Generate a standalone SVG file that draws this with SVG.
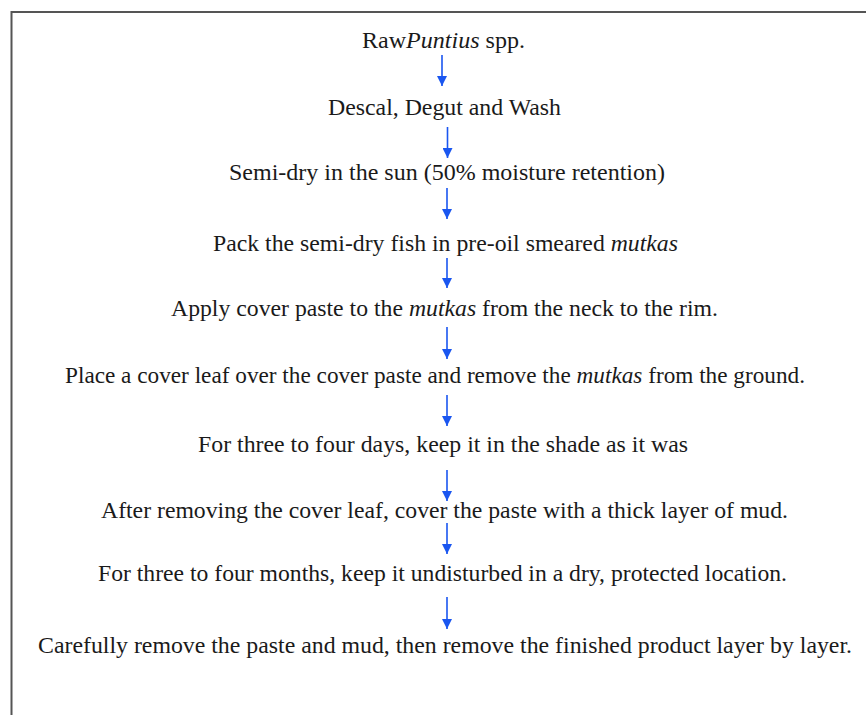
<svg xmlns="http://www.w3.org/2000/svg" width="866" height="715" viewBox="0 0 866 715">
<defs>
<style>
.t{font-family:"Liberation Serif","Times New Roman",serif;font-size:23.6px;fill:#1a1a1a;text-anchor:middle}
.i{font-style:italic}
.c{stroke:#1a56f0;stroke-width:1.6;fill:none}
</style>
<marker id="ah" viewBox="0 0 10 10" refX="10" refY="5" markerWidth="11" markerHeight="10" markerUnits="userSpaceOnUse" orient="auto">
<path d="M0,0 L10,5 L0,10 Z" fill="#1a56f0"/>
</marker>
</defs>
<rect x="0" y="0" width="866" height="715" fill="#fff"/>
<path d="M11.5,760 V12 H900" fill="none" stroke="#555" stroke-width="2"/>
<g id="connectors">
<line class="c" x1="442" y1="55" x2="442" y2="86" marker-end="url(#ah)"/>
<line class="c" x1="447.5" y1="127" x2="447.5" y2="158" marker-end="url(#ah)"/>
<line class="c" x1="447" y1="188" x2="447" y2="219" marker-end="url(#ah)"/>
<line class="c" x1="447" y1="258" x2="447" y2="288" marker-end="url(#ah)"/>
<line class="c" x1="447" y1="327" x2="447" y2="359" marker-end="url(#ah)"/>
<line class="c" x1="447" y1="395" x2="447" y2="426" marker-end="url(#ah)"/>
<line class="c" x1="447" y1="470" x2="447" y2="501" marker-end="url(#ah)"/>
<line class="c" x1="447" y1="523" x2="447" y2="554" marker-end="url(#ah)"/>
<line class="c" x1="447" y1="597" x2="447" y2="629" marker-end="url(#ah)"/>
</g>
<g id="n1"><text class="t" x="443.5" y="48" textLength="163" lengthAdjust="spacingAndGlyphs">Raw<tspan class="i">Puntius</tspan> spp.</text></g>
<g id="n2"><text class="t" x="444.5" y="115" textLength="233" lengthAdjust="spacingAndGlyphs">Descal, Degut and Wash</text></g>
<g id="n3"><text class="t" x="447" y="180" textLength="436" lengthAdjust="spacingAndGlyphs">Semi-dry in the sun (50% moisture retention)</text></g>
<g id="n4"><text class="t" x="445.5" y="251" textLength="465" lengthAdjust="spacingAndGlyphs">Pack the semi-dry fish in pre-oil smeared <tspan class="i">mutkas</tspan></text></g>
<g id="n5"><text class="t" x="444.5" y="316" textLength="547" lengthAdjust="spacingAndGlyphs">Apply cover paste to the <tspan class="i">mutkas</tspan> from the neck to the rim.</text></g>
<g id="n6"><text class="t" x="435" y="383" textLength="740" lengthAdjust="spacingAndGlyphs">Place a cover leaf over the cover paste and remove the <tspan class="i">mutkas</tspan> from the ground.</text></g>
<g id="n7"><text class="t" x="443" y="452" textLength="490" lengthAdjust="spacingAndGlyphs">For three to four days, keep it in the shade as it was</text></g>
<g id="n8"><text class="t" x="444.5" y="518" textLength="687" lengthAdjust="spacingAndGlyphs">After removing the cover leaf, cover the paste with a thick layer of mud.</text></g>
<g id="n9"><text class="t" x="442.5" y="581" textLength="689" lengthAdjust="spacingAndGlyphs">For three to four months, keep it undisturbed in a dry, protected location.</text></g>
<g id="n10"><text class="t" x="445" y="653" textLength="814" lengthAdjust="spacingAndGlyphs">Carefully remove the paste and mud, then remove the finished product layer by layer.</text></g>
</svg>
